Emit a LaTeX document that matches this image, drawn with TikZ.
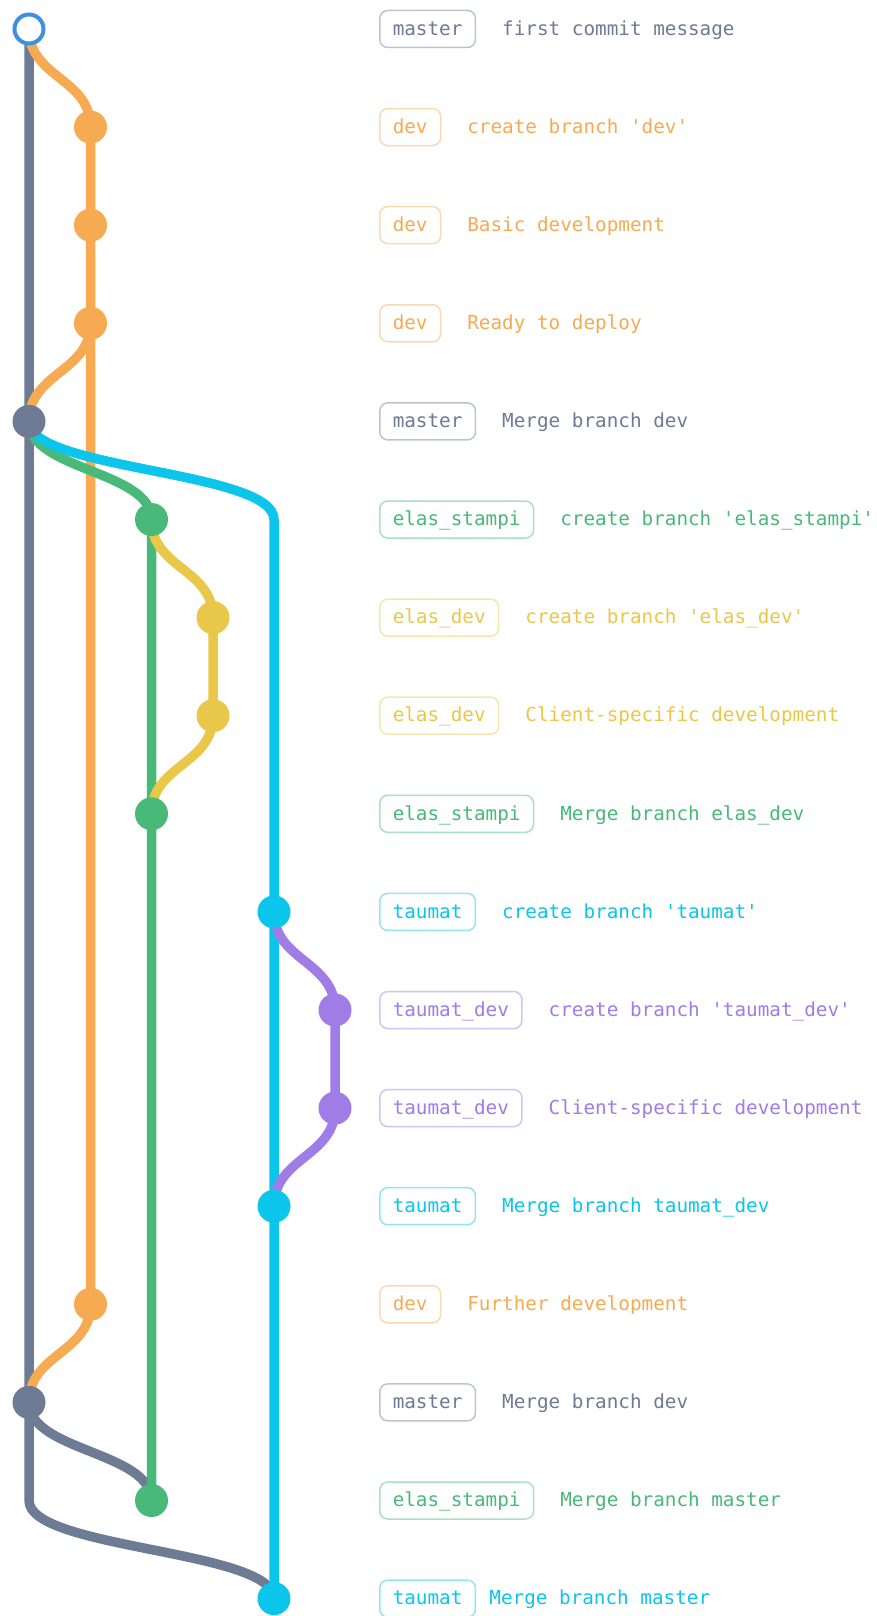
\documentclass[tikz,border=0pt]{standalone}
\usepackage{fontspec}
\setmonofont{DejaVu Sans Mono}
\usetikzlibrary{positioning, backgrounds}
\definecolor{gitmaster}{HTML}{6E7B94}
\definecolor{gitdev}{HTML}{F6AA52}
\definecolor{gitstampi}{HTML}{48B978}
\definecolor{gitelasdev}{HTML}{E9C748}
\definecolor{gittaumat}{HTML}{0CC5EA}
\definecolor{gittaumatdev}{HTML}{A07CE6}
\definecolor{gitroot}{HTML}{3E8FE0}

\begin{document}
\begin{tikzpicture}[x=1pt, y=-1pt,
    commit/.style={circle, fill=#1, inner sep=0pt, minimum size=33pt},
    root/.style={circle, draw=gitroot, fill=white, line width=4pt, inner sep=0pt, minimum size=29pt},
    branch/.style={draw=#1, line width=9.5pt, line join=round},
    tag/.style={draw=#1!45!white, text=#1, rounded corners=8pt, line width=1.5pt, minimum height=37pt, inner xsep=13pt, inner ysep=0pt, text height=17pt, text depth=4.5pt, font=\ttfamily\fontsize{19.3}{23}\selectfont, anchor=west},
    msg/.style={text=#1, inner sep=0pt, text height=17pt, text depth=4.5pt, font=\ttfamily\fontsize{19.3}{23}\selectfont},
  ]
  \useasboundingbox (0,0) rectangle (876,1616);

  % commits
  \node[root] (m0) at (29,29) {};
  \node[commit=gitdev] (d1) at (90.5,127.1) {};
  \node[commit=gitdev] (d2) at (90.5,225.2) {};
  \node[commit=gitdev] (d3) at (90.5,323.3) {};
  \node[commit=gitmaster] (m4) at (29,421.4) {};
  \node[commit=gitstampi] (s5) at (151.5,519.5) {};
  \node[commit=gitelasdev] (e6) at (213,617.6) {};
  \node[commit=gitelasdev] (e7) at (213,715.7) {};
  \node[commit=gitstampi] (s8) at (151.5,813.8) {};
  \node[commit=gittaumat] (t9) at (274,911.9) {};
  \node[commit=gittaumatdev] (u10) at (335,1010) {};
  \node[commit=gittaumatdev] (u11) at (335,1108.1) {};
  \node[commit=gittaumat] (t12) at (274,1206.2) {};
  \node[commit=gitdev] (d13) at (90.5,1304.3) {};
  \node[commit=gitmaster] (m14) at (29,1402.4) {};
  \node[commit=gitstampi] (s15) at (151.5,1500.5) {};
  \node[commit=gittaumat] (t16) at (274,1598.6) {};
  \coordinate (tfork) at (274,519.5);
  \coordinate (mjoin) at (29,1500.5);

  % branch lines
  \begin{scope}[on background layer]
    \fill[white] (0,0) rectangle (876,1616);
    \draw[branch=gitmaster] (m0.center) -- (m4.center) -- (m14.center) -- (mjoin) .. controls +(0,49) and +(0,-49) .. (t16.center);
    \draw[branch=gitmaster] (m14.center) .. controls +(0,49) and +(0,-49) .. (s15.center);
    \draw[branch=gitdev] (m0.center) .. controls +(0,49) and +(0,-49) .. (d1.center) -- (d2.center) -- (d3.center) -- (d13.center);
    \draw[branch=gitdev] (d3.center) .. controls +(0,49) and +(0,-49) .. (m4.center);
    \draw[branch=gitdev] (d13.center) .. controls +(0,49) and +(0,-49) .. (m14.center);
    \draw[branch=gitstampi] (m4.center) .. controls +(0,49) and +(0,-49) .. (s5.center) -- (s8.center) -- (s15.center);
    \draw[branch=gitelasdev] (s5.center) .. controls +(0,49) and +(0,-49) .. (e6.center) -- (e7.center) .. controls +(0,49) and +(0,-49) .. (s8.center);
    \draw[branch=gittaumat] (m4.center) .. controls +(0,49) and +(0,-49) .. (tfork) -- (t9.center) -- (t12.center) -- (t16.center);
    \draw[branch=gittaumatdev] (t9.center) .. controls +(0,49) and +(0,-49) .. (u10.center) -- (u11.center) .. controls +(0,49) and +(0,-49) .. (t12.center);
  \end{scope}

  % labels
  \node[tag=gitmaster] (l0) at (379,29) {master};
  \node[msg=gitmaster, right=25.8pt of l0] (c0) {first commit message};
  \node[tag=gitdev] (l1) at (379,127.1) {dev};
  \node[msg=gitdev, right=25.8pt of l1] (c1) {create branch 'dev'};
  \node[tag=gitdev] (l2) at (379,225.2) {dev};
  \node[msg=gitdev, right=25.8pt of l2] (c2) {Basic development};
  \node[tag=gitdev] (l3) at (379,323.3) {dev};
  \node[msg=gitdev, right=25.8pt of l3] (c3) {Ready to deploy};
  \node[tag=gitmaster] (l4) at (379,421.4) {master};
  \node[msg=gitmaster, right=25.8pt of l4] (c4) {Merge branch dev};
  \node[tag=gitstampi] (l5) at (379,519.5) {elas\_stampi};
  \node[msg=gitstampi, right=25.8pt of l5] (c5) {create branch 'elas\_stampi'};
  \node[tag=gitelasdev] (l6) at (379,617.6) {elas\_dev};
  \node[msg=gitelasdev, right=25.8pt of l6] (c6) {create branch 'elas\_dev'};
  \node[tag=gitelasdev] (l7) at (379,715.7) {elas\_dev};
  \node[msg=gitelasdev, right=25.8pt of l7] (c7) {Client-specific development};
  \node[tag=gitstampi] (l8) at (379,813.8) {elas\_stampi};
  \node[msg=gitstampi, right=25.8pt of l8] (c8) {Merge branch elas\_dev};
  \node[tag=gittaumat] (l9) at (379,911.9) {taumat};
  \node[msg=gittaumat, right=25.8pt of l9] (c9) {create branch 'taumat'};
  \node[tag=gittaumatdev] (l10) at (379,1010) {taumat\_dev};
  \node[msg=gittaumatdev, right=25.8pt of l10] (c10) {create branch 'taumat\_dev'};
  \node[tag=gittaumatdev] (l11) at (379,1108.1) {taumat\_dev};
  \node[msg=gittaumatdev, right=25.8pt of l11] (c11) {Client-specific development};
  \node[tag=gittaumat] (l12) at (379,1206.2) {taumat};
  \node[msg=gittaumat, right=25.8pt of l12] (c12) {Merge branch taumat\_dev};
  \node[tag=gitdev] (l13) at (379,1304.3) {dev};
  \node[msg=gitdev, right=25.8pt of l13] (c13) {Further development};
  \node[tag=gitmaster] (l14) at (379,1402.4) {master};
  \node[msg=gitmaster, right=25.8pt of l14] (c14) {Merge branch dev};
  \node[tag=gitstampi] (l15) at (379,1500.5) {elas\_stampi};
  \node[msg=gitstampi, right=25.8pt of l15] (c15) {Merge branch master};
  \node[tag=gittaumat] (l16) at (379,1598.6) {taumat};
  \node[msg=gittaumat, right=13pt of l16] (c16) {Merge branch master};
\end{tikzpicture}
\end{document}
